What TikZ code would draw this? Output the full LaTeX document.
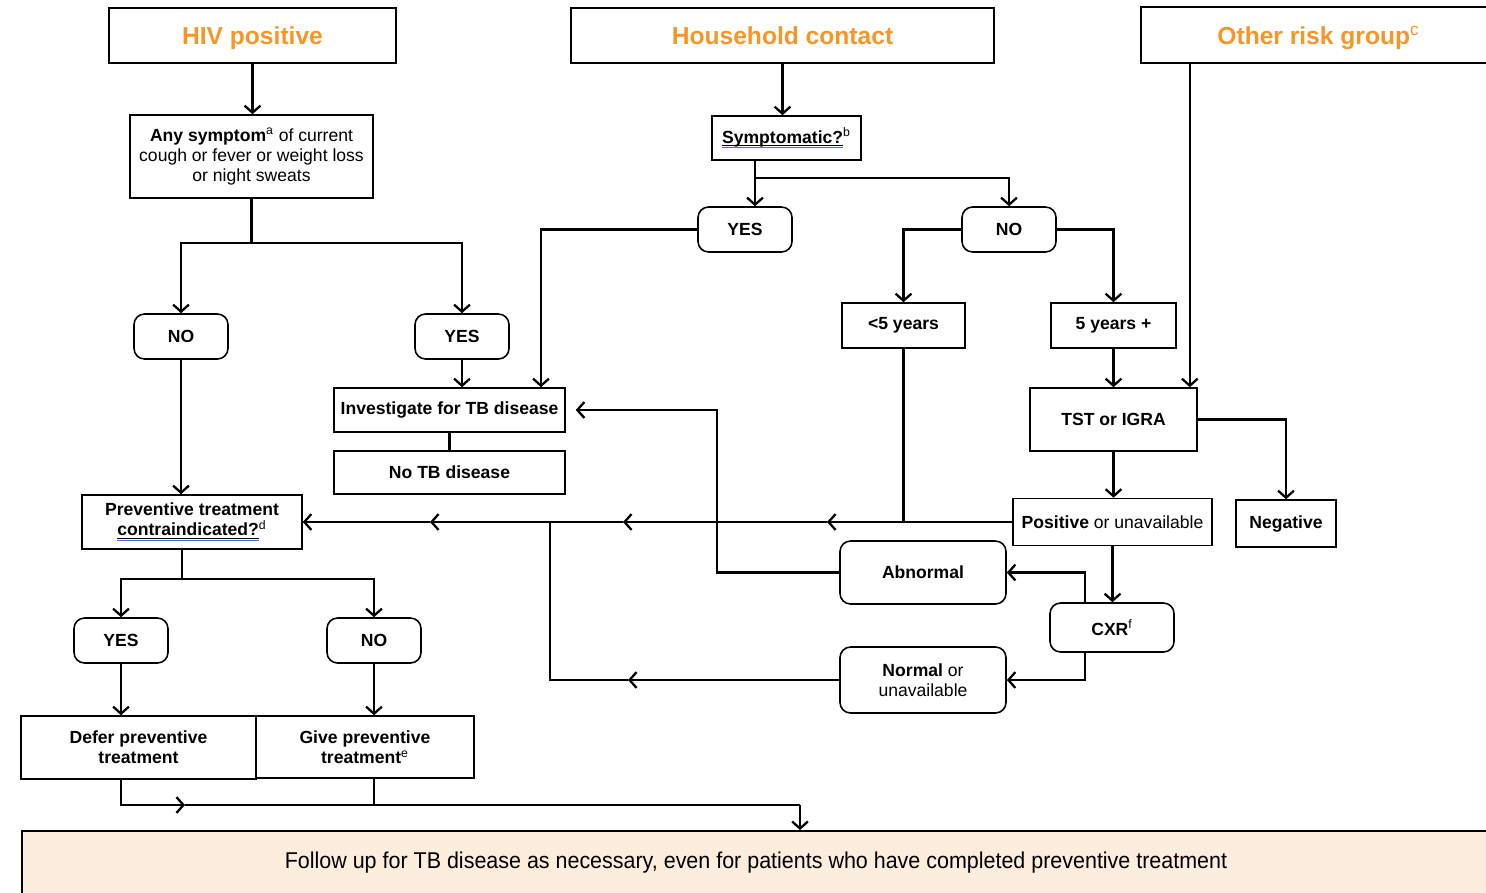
\documentclass[tikz,border=0pt]{standalone}
\usepackage{graphicx}
\usepackage{fontspec}
\setmainfont{Liberation Sans}
\usetikzlibrary{arrows.meta,calc}
\definecolor{orng}{RGB}{247,150,40}
\definecolor{peach}{RGB}{253,237,220}
\definecolor{ulblue}{RGB}{70,110,230}
\newcommand\blueul[1]{\leavevmode\setbox0=\hbox{#1}\rlap{\copy0}\rlap{\rule[-1.6pt]{\wd0}{0.5pt}}{\color{ulblue}\rule[-2.9pt]{\wd0}{0.5pt}}}
\begin{document}
\begin{tikzpicture}[x=0.02cm,y=-0.02cm,
  bx/.style={draw, line width=0.9pt, inner sep=1pt, align=center, font=\fontsize{10}{11.3}\selectfont},
  rbx/.style={bx, rounded corners=6pt},
  bfx/.style={font=\fontsize{10}{11.5}\selectfont\bfseries},
  ttl/.style={font=\fontsize{14}{16}\selectfont\bfseries, text=orng, text depth=0pt},
  sz/.style 2 args={minimum width=#1*0.02cm, minimum height=#2*0.02cm},
  ln/.style={line width=1.3pt},
  arr/.style={ln, -{Straight Barb[length=4pt,width=9pt]}}]
\useasboundingbox (0,0) rectangle (1486,892);
\clip (0,0) rectangle (1486,892);

% top boxes
\node[bx,sz={287}{55},ttl] (hiv) at (252.5,35.5) {HIV positive};
\node[bx,sz={423}{55},ttl] (hh) at (782.5,35.5) {Household contact};
\node[bx,sz={355}{56},ttl] (oth) at (1318.5,35) {Other risk group\textsuperscript{\mdseries c}};

% left branch
\node[bx,sz={243}{83}] (sym) at (251.5,156.5) {\textbf{Any symptom}\textsuperscript{a} of current\\cough or fever or weight loss\\or night sweats};
\node[rbx,sz={94}{45},bfx] (no1) at (181,336.5) {NO};
\node[rbx,sz={94}{45},bfx] (yes1) at (462,336.5) {YES};
\node[bx,sz={231}{44},bfx] (inv) at (449.5,410) {Investigate for TB disease};
\node[bx,sz={231}{43},bfx] (notb) at (449.5,472.5) {No TB disease};
\node[bx,sz={220}{54},bfx] (pt) at (192,522) {Preventive treatment\\\blueul{contraindicated?}\textsuperscript{\mdseries d}};
\node[rbx,sz={94}{45},bfx] (yes2) at (121,640.5) {YES};
\node[rbx,sz={94}{45},bfx] (no2) at (374,640.5) {NO};
\node[bx,sz={235}{63},bfx] (defer) at (138.5,747.5) {Defer preventive\\treatment};
\node[bx,sz={218}{62},bfx] (give) at (365,747) {Give preventive\\treatment\textsuperscript{\mdseries e}};

% household branch
\node[bx,sz={149}{44},bfx] (symp) at (786.5,138) {\blueul{Symptomatic?}\textsuperscript{\mdseries b}};
\node[rbx,sz={94}{45},bfx] (yes3) at (745,229.5) {YES};
\node[rbx,sz={94}{45},bfx] (no3) at (1009,229.5) {NO};
\node[bx,sz={123}{45},bfx] (lt5) at (903.5,325.5) {<5 years};
\node[bx,sz={125}{45},bfx] (ge5) at (1113.5,325.5) {5 years +};
\node[bx,sz={167}{63},bfx] (tst) at (1113.5,419.5) {TST or IGRA};
\node[bx,sz={199}{47}] (pos) at (1112.5,522) {\textbf{Positive} or unavailable};
\node[bx,sz={100}{47},bfx] (neg) at (1286,523.5) {Negative};
\node[rbx,sz={124}{49},bfx] (cxr) at (1112,627.5) {CXR\textsuperscript{\mdseries f}};
\node[rbx,sz={166}{63},bfx] (abn) at (923,572.5) {Abnormal};
\node[rbx,sz={166}{66}] (norm) at (923,680) {\textbf{Normal} or\\unavailable};

% follow-up box
\node[draw, line width=0.9pt, fill=peach, sz={1500}{80}, anchor=north west, inner sep=0pt] (follow) at (21,830) {};
\node (followtxt) at (756,863) {\scalebox{0.94}[1]{\fontsize{13}{15}\selectfont Follow up for TB disease as necessary, even for patients who have completed preventive treatment}};

% coordinates
\coordinate (j1) at (254,243);
\coordinate (j2) at (755,178);
\coordinate (j3) at (182,579);
\coordinate (c1) at (827,522);
\coordinate (c2) at (623,522);
\coordinate (c3) at (430,522);
\coordinate (c4) at (628,680);
\coordinate (k1) at (550,522);
\coordinate (k2) at (550,680);
\coordinate (a1) at (717,572.5);
\coordinate (b2) at (185,805);
\coordinate (b3) at (800,805);
\coordinate (o1) at ($(tst.north east)+(-8,0)$);

% HIV branch connectors
\draw[arr] (hiv.south) -- (hiv.south |- sym.north);
\draw[ln] (sym.south) |- (j1);
\draw[arr] (j1) -| (no1.north);
\draw[arr] (j1) -| (yes1.north);
\draw[arr] (yes1.south) -- (yes1.south |- inv.north);
\draw[ln] (inv.south) -- (notb.north);
\draw[ln] ($(notb.south)+(9.5,0)$) -- ($(notb.south)+(9.5,0)$ |- c3);
\draw[arr] (no1.south) -- (no1.south |- pt.north);

% main horizontal line
\draw[arr] (pos.west) -- (c1);
\draw[arr] (c1) -- (c2);
\draw[arr] (c2) -- (c3);
\draw[arr] (c3) -- (pt.east);
\draw[ln] (lt5.south) -- (lt5.south |- c1);
\draw[arr] (norm.west) -- (c4);
\draw[ln] (c4) -- (k2) -- (k1);
\draw[arr] (abn.west) -- (a1) |- ($(inv.east)+(10,0)$);

% household connectors
\draw[arr] (hh.south) -- (hh.south |- symp.north);
\draw[ln] ($(symp.south)+(-31.5,0)$) -- (j2);
\draw[arr] (j2) -- (j2 |- yes3.north);
\draw[arr] (j2) -| (no3.north);
\draw[arr] (yes3.west) -| ($(inv.north)+(91.5,0)$);
\draw[arr] (no3.west) -| (lt5.north);
\draw[arr] (no3.east) -| (ge5.north);
\draw[arr] (ge5.south) -- (ge5.south |- tst.north);
\draw[arr] (oth.south -| o1) -- (o1);
\draw[arr] (tst.east) -| (neg.north);
\draw[arr] (tst.south) -- (tst.south |- pos.north);
\draw[arr] (pos.south) -- (pos.south |- cxr.north);
\draw[arr] ($(cxr.north)+(-27,0)$) |- (abn.east);
\draw[arr] ($(cxr.south)+(-27,0)$) |- (norm.east);

% lower-left connectors
\draw[ln] ($(pt.south)+(-10,0)$) -- (j3);
\draw[arr] (j3) -| (yes2.north);
\draw[arr] (j3) -| (no2.north);
\draw[arr] (yes2.south) -- (yes2.south |- defer.north);
\draw[arr] (no2.south) -- (no2.south |- give.north);
\draw[arr] (yes2.south |- defer.south) |- (b2);
\draw[ln] (b2) -- (b3);
\draw[ln] (no2.south |- give.south) -- (no2.south |- b3);
\draw[arr] (b3) -- (b3 |- follow.north);
\end{tikzpicture}
\end{document}
